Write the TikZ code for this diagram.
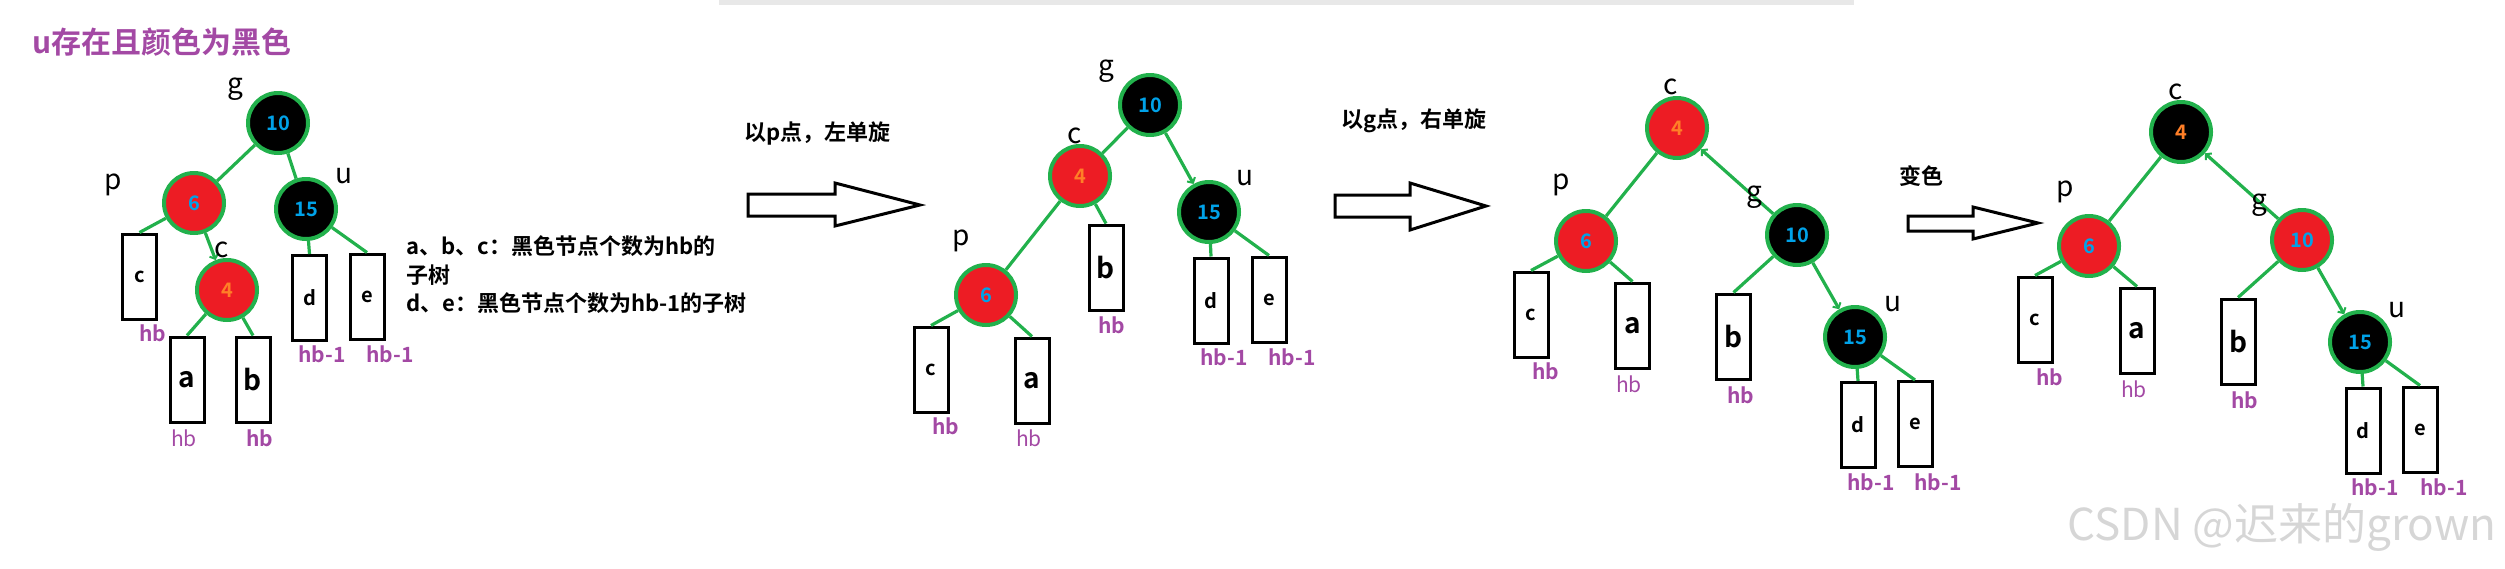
\documentclass[tikz,border=0pt]{standalone}
\usepackage{fontspec}
\setmainfont{Noto Sans CJK SC}[BoldFont={Noto Sans CJK SC Bold}]
\usepackage{tikz}
\usetikzlibrary{arrows.meta}

\definecolor{tgreen}{HTML}{22B14C}
\definecolor{tred}{HTML}{ED1C24}
\definecolor{tpurple}{HTML}{A349A4}
\definecolor{nblue}{HTML}{00A2E8}
\definecolor{norange}{HTML}{FF7F27}

\newcommand\fs[1]{\fontsize{#1}{#1}\selectfont}

\begin{document}
\begin{tikzpicture}[x=1pt,y=-1pt,
    rb/.style={circle,draw=tgreen,line width=4pt,fill=tred,minimum size=60pt,inner sep=0pt,font=\fs{20}\bfseries},
    bk/.style={rb,fill=black},
    sub/.style={draw,line width=3pt,fill=white,minimum width=34pt,minimum height=85pt,inner sep=0pt},
    small/.style={font=\fs{20}\bfseries},
    big/.style={font=\fs{28}\bfseries},
    edge/.style={draw=tgreen,line width=3.2pt},
    barb/.style={edge,-{Straight Barb[length=4pt,width=9pt,line width=2pt]}},
    lbl/.style={font=\fs{28}},
    hb/.style={text=tpurple,font=\fs{21}\bfseries},
    hbr/.style={text=tpurple,font=\fs{21}},
    note/.style={anchor=west,font=\fs{22}\bfseries}]
\useasboundingbox (0,0) rectangle (2505,568);
\fill[black!9] (719,0) rectangle (1854,5);

\node[anchor=west,text=tpurple,font=\fs{30}\bfseries] (title) at (29,42) {u存在且颜色为黑色};

% panel 1
\node[bk] (g1) at (278,123) {\textcolor{nblue}{10}};
\node[rb] (p1) at (194,203) {\textcolor{nblue}{6}};
\node[bk] (u1) at (306,209) {\textcolor{nblue}{15}};
\node[rb] (c1) at (227,290) {\textcolor{norange}{4}};
\node[sub,small] (tc1) at (139.5,276.5) {c};
\node[sub,big] (ta1) at (187,379.5) {a};
\node[sub,big] (tb1) at (253,379.5) {b};
\node[sub,small] (td1) at (309.5,298) {d};
\node[sub,small] (te1) at (367,296.5) {e};
\draw[edge] (g1) -- (p1);
\draw[edge] (g1) -- (u1);
\draw[barb] (p1) -- (c1);
\draw[edge] (p1) -- (tc1.north);
\draw[edge] (c1) -- (ta1.north);
\draw[edge] (c1) -- (tb1.north);
\draw[edge] (u1) -- (td1.north);
\draw[edge] (u1) -- (te1.north);
\node[lbl] (lg1) at (235,89) {g};
\node[lbl] (lp1) at (113,185) {p};
\node[lbl] (lu1) at (344,176) {u};
\node[lbl] (lc1) at (222,250) {c};
\node[hb] (hc1) at (153,333) {hb};
\node[hbr] (ha1) at (184,438) {hb};
\node[hb] (hb1) at (260,438) {hb};
\node[hb] (hd1) at (322,354) {hb-1};
\node[hb] (he1) at (390,354) {hb-1};
\node[note] (n1) at (403,246) {a、b、c：黑色节点个数为hb的};
\node[note] (n2) at (403,275) {子树};
\node[note] (n3) at (403,303) {d、e：黑色节点个数为hb-1的子树};

% arrow 1
\node[note] (s1) at (741,134) {以p点，左单旋};
\draw[line width=3pt,line join=miter] (748,194) -- (835,194) -- (835,183) -- (920,205)
  -- (835,226) -- (835,216) -- (748,216) -- cycle;

% panel 2
\node[bk] (g2) at (1150,105) {\textcolor{nblue}{10}};
\node[rb] (c2) at (1080,176) {\textcolor{norange}{4}};
\node[bk] (u2) at (1209,212) {\textcolor{nblue}{15}};
\node[rb] (p2) at (986,295) {\textcolor{nblue}{6}};
\node[sub,small] (tc2) at (931,369.5) {c};
\node[sub,big] (ta2) at (1032,380.5) {a};
\node[sub,big] (tb2) at (1106,267.5) {b};
\node[sub,small] (td2) at (1211,300.5) {d};
\node[sub,small] (te2) at (1269,299.5) {e};
\draw[edge] (g2) -- (c2);
\draw[barb] (g2) -- (u2);
\draw[edge] (c2) -- (p2);
\draw[edge] (c2) -- (tb2.north);
\draw[edge] (p2) -- (tc2.north);
\draw[edge] (p2) -- (ta2.north);
\draw[edge] (u2) -- (td2.north);
\draw[edge] (u2) -- (te2.north);
\node[lbl] (lg2) at (1106,71) {g};
\node[lbl] (lc2) at (1075,136) {c};
\node[lbl] (lu2) at (1245,178) {u};
\node[lbl] (lp2) at (961,241) {p};
\node[hb] (hc2) at (946,426) {hb};
\node[hbr] (ha2) at (1029,438) {hb};
\node[hb] (hb2) at (1112,325) {hb};
\node[hb] (hd2) at (1224,357) {hb-1};
\node[hb] (he2) at (1292,357) {hb-1};

% arrow 2
\node[note] (s2) at (1338,121) {以g点，右单旋};
\draw[line width=3pt,line join=miter] (1335,195) -- (1410,195) -- (1410,183) -- (1486,206)
  -- (1410,230) -- (1410,217) -- (1335,217) -- cycle;

% panel 3
\node[rb] (c3) at (1677,128) {\textcolor{norange}{4}};
\node[rb] (p3) at (1586,241) {\textcolor{nblue}{6}};
\node[bk] (g3) at (1797,235) {\textcolor{nblue}{10}};
\node[bk] (u3) at (1855,337) {\textcolor{nblue}{15}};
\node[sub,small] (tc3) at (1531,314.5) {c};
\node[sub,big] (ta3) at (1632.5,325.5) {a};
\node[sub,big] (tb3) at (1733.5,336.5) {b};
\node[sub,small] (td3) at (1858,425) {d};
\node[sub,small] (te3) at (1915,424) {e};
\draw[edge] (c3) -- (p3);
\draw[barb] (g3) -- (c3);
\draw[edge] (p3) -- (tc3.north);
\draw[edge] (p3) -- (ta3.north);
\draw[edge] (g3) -- (tb3.north);
\draw[barb] (g3) -- (u3);
\draw[edge] (u3) -- (td3.north);
\draw[edge] (u3) -- (te3.north);
\node[lbl] (lc3) at (1671,87) {c};
\node[lbl] (lp3) at (1561,185) {p};
\node[lbl] (lg3) at (1754,197) {g};
\node[lbl] (lu3) at (1893,304) {u};
\node[hb] (hc3) at (1546,371) {hb};
\node[hbr] (ha3) at (1629,384) {hb};
\node[hb] (hb3) at (1741,395) {hb};
\node[hb] (hd3) at (1871,482) {hb-1};
\node[hb] (he3) at (1938,482) {hb-1};

% arrow 3
\node[note] (s3) at (1896,176) {变色};
\draw[line width=3pt,line join=miter] (1908,216) -- (1973,216) -- (1973,207) -- (2038,223)
  -- (1973,239) -- (1973,231) -- (1908,231) -- cycle;

% panel 4
\node[bk] (c4) at (2181,132) {\textcolor{norange}{4}};
\node[rb] (p4) at (2089,246) {\textcolor{nblue}{6}};
\node[rb] (g4) at (2302,240) {\textcolor{nblue}{10}};
\node[bk] (u4) at (2360,342) {\textcolor{nblue}{15}};
\node[sub,small] (tc4) at (2035,319.5) {c};
\node[sub,big] (ta4) at (2137,330.5) {a};
\node[sub,big] (tb4) at (2238,341.5) {b};
\node[sub,small] (td4) at (2363,430.5) {d};
\node[sub,small] (te4) at (2420,429.5) {e};
\draw[edge] (c4) -- (p4);
\draw[barb] (g4) -- (c4);
\draw[edge] (p4) -- (tc4.north);
\draw[edge] (p4) -- (ta4.north);
\draw[edge] (g4) -- (tb4.north);
\draw[barb] (g4) -- (u4);
\draw[edge] (u4) -- (td4.north);
\draw[edge] (u4) -- (te4.north);
\node[lbl] (lc4) at (2176,92) {c};
\node[lbl] (lp4) at (2065,192) {p};
\node[lbl] (lg4) at (2259,205) {g};
\node[lbl] (lu4) at (2397,310) {u};
\node[hb] (hc4) at (2050,377) {hb};
\node[hbr] (ha4) at (2134,389) {hb};
\node[hb] (hb4) at (2245,400) {hb};
\node[hb] (hd4) at (2375,487) {hb-1};
\node[hb] (he4) at (2444,487) {hb-1};

\node[anchor=east,text=black!16,font=\fs{44}] (wm) at (2500,527) {CSDN @迟来的grown};
\end{tikzpicture}
\end{document}
